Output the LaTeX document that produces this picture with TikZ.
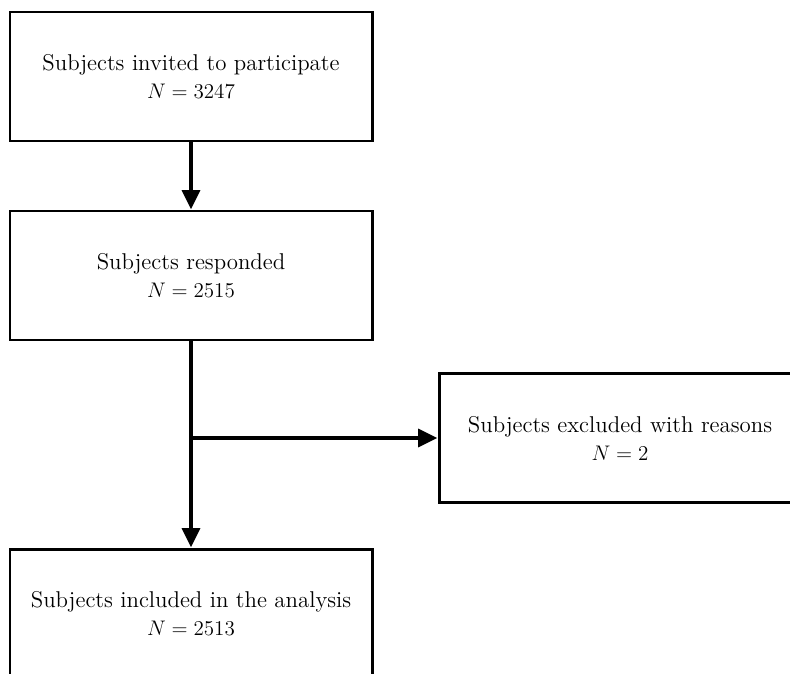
\documentclass[tikz,border=0pt]{standalone}
\usepackage{amsmath}
\usepackage{tikz}
\usetikzlibrary{arrows.meta,calc}

\begin{document}
\begin{tikzpicture}[
  stagebox/.style={draw, line width=1.7pt, minimum width=7.24cm, minimum height=2.58cm,
    align=center, font=\fontsize{13}{15.9}\selectfont},
  flowarrow/.style={line width=2.4pt, -{Triangle[length=11pt,width=10pt]}}
]
\useasboundingbox (0,0) rectangle (15.8,-13.46);
\clip (0,0) rectangle (15.8,-13.46);

\node [stagebox] (invited) at (3.82,-1.53) {Subjects invited to participate\\ $N = 3247$};
\node [stagebox] (responded) at (3.82,-5.51) {Subjects responded\\ $N = 2515$};
\node [stagebox] (excluded) at (12.4,-8.76) {Subjects excluded with reasons\\ $N = 2$};
\node [stagebox] (included) at (3.82,-12.27) {Subjects included in the analysis\\ $N = 2513$};

\draw [flowarrow] (invited) -- (responded);
\draw [flowarrow] (responded) -- (included);

\coordinate (split) at (responded.south |- excluded.west);
\draw [flowarrow] (split) -- (excluded.west);
\end{tikzpicture}
\end{document}
